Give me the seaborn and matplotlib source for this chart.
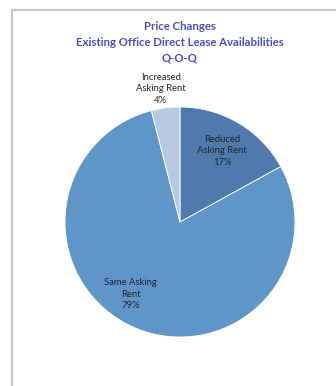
import numpy as np
import matplotlib
matplotlib.use("Agg")
import matplotlib.pyplot as plt
import seaborn as sns
from matplotlib.patches import Rectangle

# Share of existing office direct lease availabilities by quarter-over-quarter price change
categories = ["Reduced\nAsking Rent", "Same Asking\nRent", "Increased\nAsking Rent"]
shares = [17, 79, 4]
colors = ["#4E7BAC", "#5F96C9", "#B8C9E3"]

sns.set_theme(style="white")
plt.rcParams["font.family"] = ["Lato", "DejaVu Sans"]

W, H = 336, 386
fig = plt.figure(figsize=(W / 100, H / 100), dpi=100)
fig.patch.set_facecolor("white")

# chart frame
fig.add_artist(Rectangle((11.5 / W, -0.1), 1.2, (H - 9.5) / H + 0.1,
                         transform=fig.transFigure, fill=False,
                         edgecolor="#C6C6C6", linewidth=1.6))

# title
title_color = "#4A4FC2"
for i, line in enumerate(["Price Changes",
                          "Existing Office Direct Lease Availabilities",
                          "Q-O-Q"]):
    fig.text(180 / W, 1 - (26 + 16 * i) / H, line, ha="center", va="center",
             fontsize=8.2, fontweight="bold", color=title_color)

# pie
cx, cy, r = 180, 222, 115
ax = fig.add_axes([(cx - r) / W, (H - cy - r) / H, 2 * r / W, 2 * r / H])
wedges, _ = ax.pie(shares, colors=colors, startangle=90, counterclock=False,
                   wedgeprops=dict(edgecolor="white", linewidth=0.6))
ax.set_xlim(-1, 1)
ax.set_ylim(-1, 1)
ax.set_aspect("auto")
ax.axis("off")

# data labels: radius and angular nudge per wedge
label_r = [0.72, 0.76, 1.17]
label_dt = [0, -11, 1]
for w, cat, val, lr, dt in zip(wedges, categories, shares, label_r, label_dt):
    th = np.deg2rad((w.theta1 + w.theta2) / 2 + dt)
    ax.text(lr * np.cos(th), lr * np.sin(th), f"{cat}\n{val}%",
            ha="center", va="center", fontsize=6.8, color="#262626",
            linespacing=1.35, clip_on=False)

fig.savefig("out.png", dpi=100, facecolor="white")
